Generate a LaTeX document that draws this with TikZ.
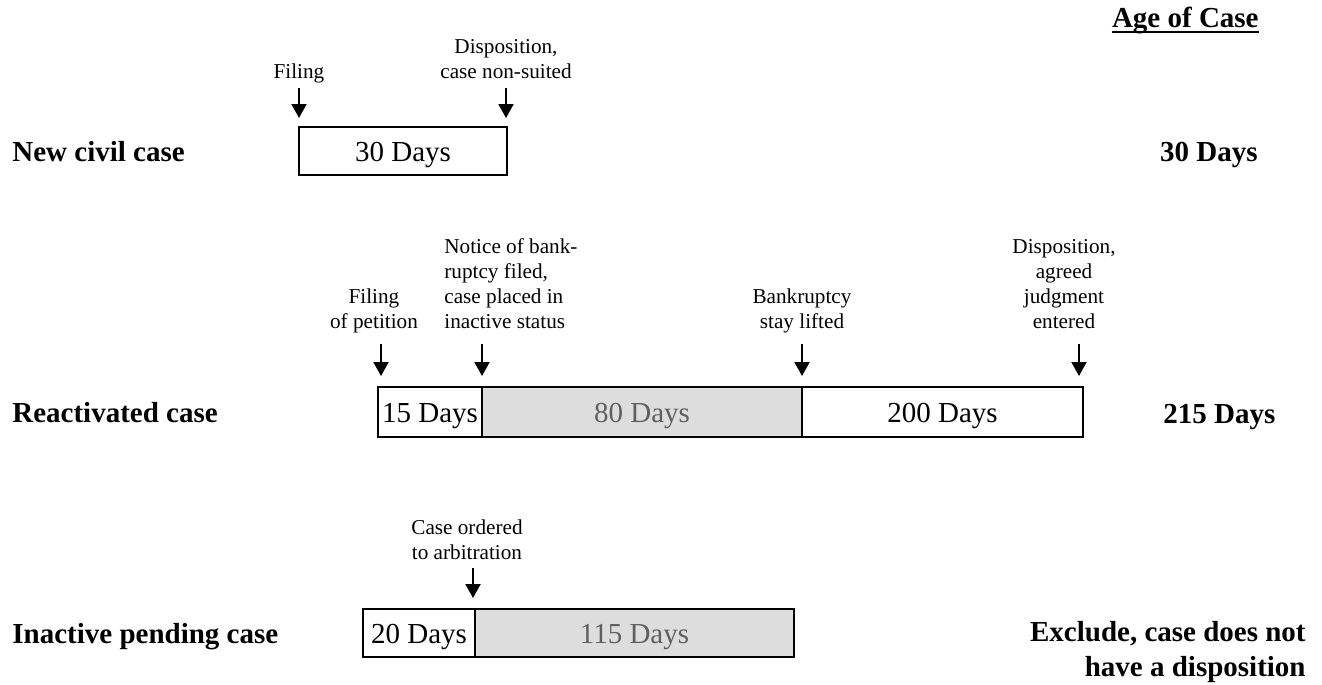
\documentclass[tikz,border=0pt]{standalone}
\usepackage{fontspec}
\setmainfont{Liberation Serif}
\usetikzlibrary{arrows.meta}
\definecolor{segfill}{RGB}{221,221,221}
\definecolor{segtext}{RGB}{95,95,95}
\begin{document}
\begin{tikzpicture}[x=0.5pt,y=-0.5pt,
  bigb/.style={font=\bfseries\fontsize{14.5}{17.5}\selectfont, inner sep=0pt},
  small/.style={font=\fontsize{10.6}{12.5}\selectfont, inner sep=0pt, align=center, anchor=south},
  seg/.style={draw=black, line width=1.2pt, fill=white, inner sep=0pt,
    font=\fontsize{14.5}{17}\selectfont, text height=10pt, text depth=0pt},
  inact/.style={seg, fill=segfill, text=segtext},
  arr/.style={line width=1pt, -{Triangle[width=7.5pt,length=7pt]}},
]
\useasboundingbox (0,0) rectangle (1322,685);

% header
\node[bigb, anchor=base east] (age) at (1259,27) {Age of Case};
\draw[line width=1pt] ([yshift=-2.5pt]age.base west) -- ([yshift=-2.5pt]age.base east);

% row 1
\node[bigb, anchor=base west] (lab1) at (12,161) {New civil case};
\node[seg, minimum width=104pt, minimum height=24pt] (n1) at (403,151) {30 Days};
\node[bigb, anchor=base east] (age1) at (1258,161) {30 Days};
\node[small] (lf1) at (299,86.5) {Filing\strut};
\node[small] (ld1) at (506,86.5) {Disposition,\\case non-suited\strut};
\coordinate (a1t) at (299,88);  \coordinate (a1b) at (299,118);
\coordinate (a2t) at (506,88);  \coordinate (a2b) at (506,118);
\draw[arr] (a1t) -- (a1b);
\draw[arr] (a2t) -- (a2b);

% row 2
\node[bigb, anchor=base west] (lab2) at (12,422) {Reactivated case};
\node[seg, minimum width=52pt, minimum height=25pt] (r1) at (430,412) {15 Days};
\node[inact, minimum width=160pt, minimum height=25pt] (r2) at (642,412) {80 Days};
\node[seg, minimum width=140.5pt, minimum height=25pt] (r3) at (942.5,412) {200 Days};
\node[bigb, anchor=base west] (age2) at (1163,423) {215 Days};
\node[small] (lf2) at (374,336.5) {Filing\\of petition\strut};
\node[small, align=left, anchor=south west] (ln2) at (444,336.5) {Notice of bank-\\ruptcy filed,\\case placed in\\inactive status\strut};
\node[small] (lb2) at (802,336.5) {Bankruptcy\\stay lifted\strut};
\node[small] (ld2) at (1064,336.5) {Disposition,\\agreed\\judgment\\entered\strut};
\coordinate (b1t) at (381,344);  \coordinate (b1b) at (381,376);
\coordinate (b2t) at (482,344);  \coordinate (b2b) at (482,376);
\coordinate (b3t) at (802,344);  \coordinate (b3b) at (802,376);
\coordinate (b4t) at (1079,344); \coordinate (b4b) at (1079,376);
\draw[arr] (b1t) -- (b1b);
\draw[arr] (b2t) -- (b2b);
\draw[arr] (b3t) -- (b3b);
\draw[arr] (b4t) -- (b4b);

% row 3
\node[bigb, anchor=base west] (lab3) at (12,643) {Inactive pending case};
\node[seg, minimum width=56pt, minimum height=24pt] (i1) at (419,633) {20 Days};
\node[inact, minimum width=159.5pt, minimum height=24pt] (i2) at (634.5,633) {115 Days};
\node[bigb, align=right, anchor=south east] (age3) at (1306,687.5) {Exclude, case does not\\have a disposition\strut};
\node[small] (lc3) at (467,567.5) {Case ordered\\to arbitration\strut};
\coordinate (c1t) at (473,568); \coordinate (c1b) at (473,598);
\draw[arr] (c1t) -- (c1b);
\end{tikzpicture}
\end{document}
